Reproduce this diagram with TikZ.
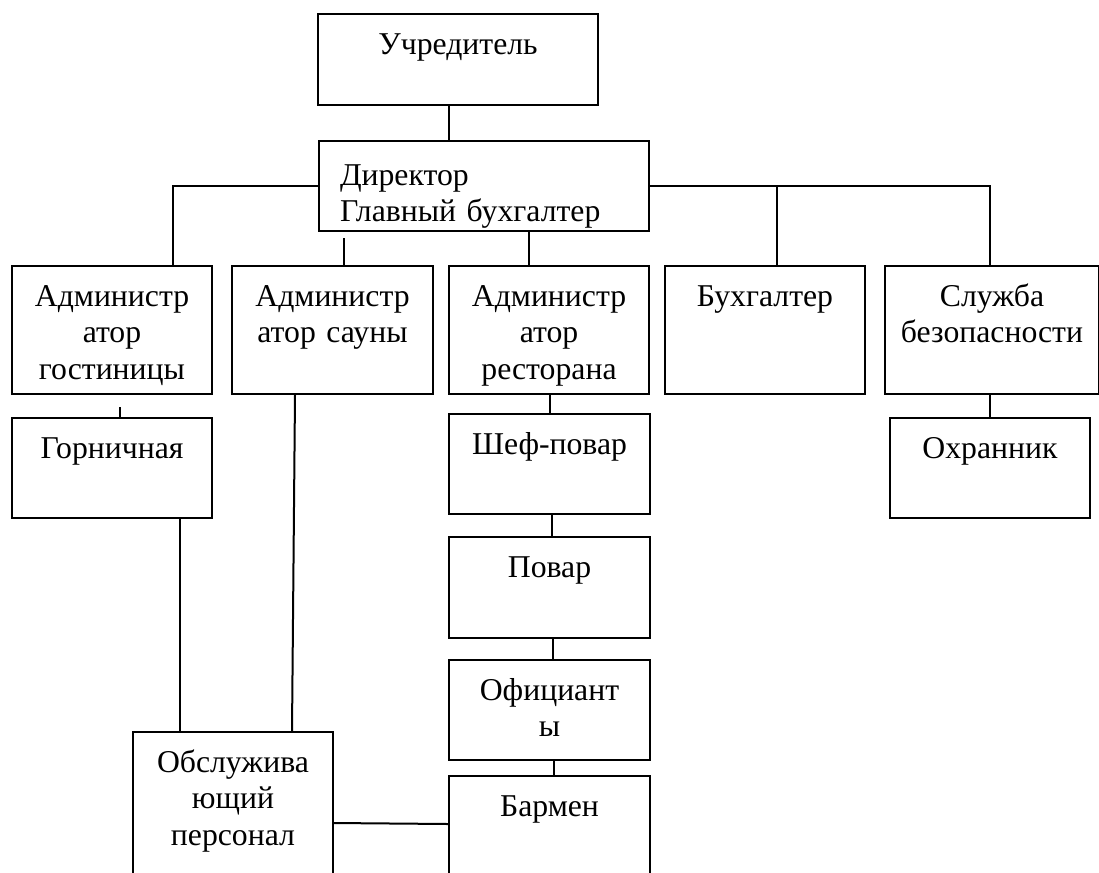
\documentclass[tikz,border=0pt]{standalone}
\usepackage{fontspec}
\setmainfont{Liberation Serif}
\begin{document}
\begin{tikzpicture}[x=0.75pt, y=-0.75pt, line width=1.5pt,
  box/.style={draw, inner sep=0pt, align=center, anchor=north west, text height=30pt, font=\fontsize{23.8}{27.4}\selectfont}]
\useasboundingbox (0,0) rectangle (1099,872);
\node [box, text width=210pt, text depth=38.25pt] (founder) at (317,13) {Учредитель};
\node [box, align=left, inner xsep=15.75pt, text width=216pt, text height=33pt, text depth=34.5pt] (director) at (318,140) {Директор\\Главный бухгалтер};
\node [box, text width=150pt, text depth=66pt] (hoteladm) at (11,265) {Администр\\атор\\гостиницы};
\node [box, text width=150.75pt, text depth=66pt] (saunaadm) at (231,265) {Администр\\атор сауны};
\node [box, text width=150pt, text depth=66pt] (restadm) at (448,265) {Администр\\атор\\ресторана};
\node [box, text width=150pt, text depth=66pt] (accountant) at (664,265) {Бухгалтер};
\node [box, text width=160.5pt, text depth=66pt] (security) at (884,265) {Служба\\безопасности};
\node [box, text width=150pt, text depth=45pt] (maid) at (11,417) {Горничная};
\node [box, text width=150.75pt, text depth=45pt] (chef) at (448,413) {Шеф-повар};
\node [box, text width=150pt, text depth=45pt] (guard) at (889,417) {Охранник};
\node [box, text width=150.75pt, text depth=45.75pt] (cook) at (448,536) {Повар};
\node [box, text width=150.75pt, text depth=45pt] (waiters) at (448,659) {Официант\\ы};
\node [box, text width=150.75pt, text depth=45pt] (barman) at (448,775) {Бармен};
\node [box, text width=150pt, text depth=90pt] (staff) at (132,731) {Обслужива\\ющий\\персонал};
\draw (449,0 |- founder.south) -- (449,0 |- director.north);
\draw (director.west) -| (173,0 |- hoteladm.north);
\draw (director.east) -| (990,0 |- security.north);
\draw (777,0 |- director.east) -- (777,0 |- accountant.north);
\draw [shorten <=4.5pt] (344,0 |- director.south) -- (344,0 |- saunaadm.north);
\draw (529,0 |- director.south) -- (529,0 |- restadm.north);
\draw [shorten <=9pt] (120,0 |- hoteladm.south) -- (120,0 |- maid.north);
\draw (295,0 |- saunaadm.south) -- (292,0 |- staff.north);
\draw (180,0 |- maid.south) -- (180,0 |- staff.north);
\draw (550,0 |- restadm.south) -- (550,0 |- chef.north);
\draw (552,0 |- chef.south) -- (552,0 |- cook.north);
\draw (553,0 |- cook.south) -- (553,0 |- waiters.north);
\draw (554,0 |- waiters.south) -- (554,0 |- barman.north);
\draw (990,0 |- security.south) -- (990,0 |- guard.north);
\draw (staff.east |- 0,823) -- (barman.west |- 0,824);
\end{tikzpicture}
\end{document}
